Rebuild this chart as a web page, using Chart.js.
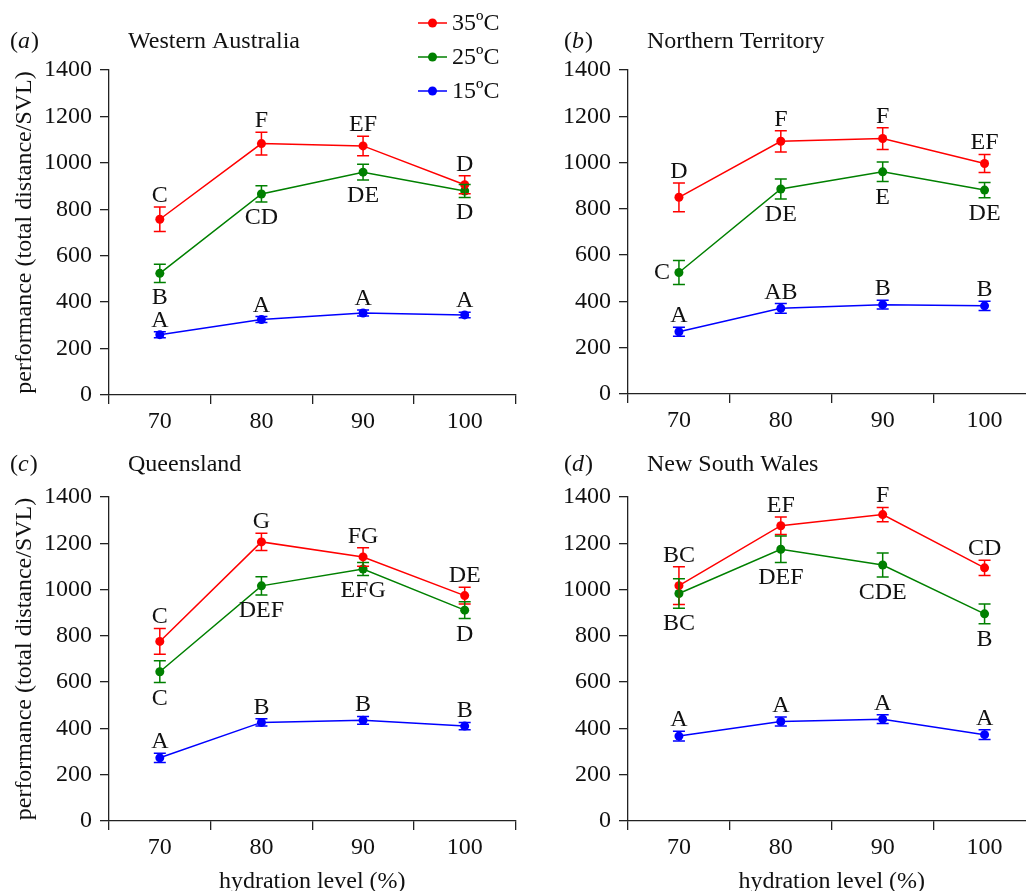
<!DOCTYPE html>
<html>
<head>
<meta charset="utf-8">
<title>Performance vs hydration level</title>
<script src="https://cdn.jsdelivr.net/npm/chart.js@4.4.0/dist/chart.umd.min.js"></script>
<style>
  html, body { margin: 0; padding: 0; background: #fff; overflow: hidden; }
  body { width: 1026px; height: 891px; position: relative; }
  canvas { position: absolute; }
</style>
</head>
<body>
<canvas id="chartA" width="520" height="440" style="left:0;top:0"></canvas>
<canvas id="chartB" width="520" height="440" style="left:520px;top:0"></canvas>
<canvas id="chartC" width="520" height="460" style="left:0;top:440px"></canvas>
<canvas id="chartD" width="520" height="460" style="left:520px;top:440px"></canvas>
<script>
(function () {
  'use strict';

  // categories and series names
  var HYDRATION = ['70', '80', '90', '100'];
  var TEMPS = ['35ºC', '25ºC', '15ºC'];

  // (a) Western Australia: means, standard errors, group letters
  var WA_35 = [757, 1083, 1073, 906];
  var WA_35_SE = [53, 49, 42, 39];
  var WA_35_GRP = ['C', 'F', 'EF', 'D'];
  var WA_25 = [524, 866, 960, 879];
  var WA_25_SE = [39, 35, 34, 28];
  var WA_25_GRP = ['B', 'CD', 'DE', 'D'];
  var WA_15 = [260, 325, 353, 345];
  var WA_15_SE = [13, 13, 13, 12];
  var WA_15_GRP = ['A', 'A', 'A', 'A'];

  // (b) Northern Territory
  var NT_35 = [850, 1092, 1104, 996];
  var NT_35_SE = [62, 46, 47, 39];
  var NT_35_GRP = ['D', 'F', 'F', 'EF'];
  var NT_25 = [525, 886, 960, 881];
  var NT_25_SE = [52, 43, 42, 33];
  var NT_25_GRP = ['C', 'DE', 'E', 'DE'];
  var NT_15 = [269, 370, 386, 381];
  var NT_15_SE = [19, 21, 19, 20];
  var NT_15_GRP = ['A', 'AB', 'B', 'B'];

  // (c) Queensland
  var QLD_35 = [776, 1206, 1141, 974];
  var QLD_35_SE = [56, 37, 40, 36];
  var QLD_35_GRP = ['C', 'G', 'FG', 'DE'];
  var QLD_25 = [645, 1016, 1089, 911];
  var QLD_25_SE = [47, 39, 28, 36];
  var QLD_25_GRP = ['C', 'DEF', 'EFG', 'D'];
  var QLD_15 = [273, 426, 435, 410];
  var QLD_15_SE = [20, 16, 17, 16];
  var QLD_15_GRP = ['A', 'B', 'B', 'B'];

  // (d) New South Wales
  var NSW_35 = [1017, 1276, 1324, 1094];
  var NSW_35_SE = [82, 38, 31, 33];
  var NSW_35_GRP = ['BC', 'EF', 'F', 'CD'];
  var NSW_25 = [983, 1174, 1106, 895];
  var NSW_25_SE = [64, 57, 52, 43];
  var NSW_25_GRP = ['BC', 'DEF', 'CDE', 'B'];
  var NSW_15 = [367, 430, 440, 373];
  var NSW_15_SE = [21, 19, 19, 21];
  var NSW_15_GRP = ['A', 'A', 'A', 'A'];

  // styling
  var COLORS = ['#ff0000', '#008000', '#0000ff'];
  var AXIS = '#222222';
  var TEXT = '#111111';
  var FAMILY = "'Liberation Serif', 'Times New Roman', Times, serif";
  var FONT_PX = 24;

  // where the group letters sit: a = above, b = below, l = left of the point
  var PLACE_DEFAULT = [
    ['a', 'a', 'a', 'a'],
    ['b', 'b', 'b', 'b'],
    ['a', 'a', 'a', 'a']
  ];
  var PLACE_NT = [
    ['a', 'a', 'a', 'a'],
    ['l', 'b', 'b', 'b'],
    ['a', 'a', 'a', 'a']
  ];

  function font(style) {
    return (style ? style + ' ' : '') + FONT_PX + 'px ' + FAMILY;
  }

  // Error bars (mean +/- SE)
  var errorBarPlugin = {
    id: 'errorBars',
    afterDatasetsDraw: function (chart) {
      var ctx = chart.ctx;
      var y = chart.scales.y;
      chart.data.datasets.forEach(function (ds, i) {
        var meta = chart.getDatasetMeta(i);
        ctx.save();
        ctx.strokeStyle = ds.borderColor;
        ctx.lineWidth = 1.5;
        meta.data.forEach(function (pt, j) {
          var hi = y.getPixelForValue(ds.data[j] + ds.errors[j]);
          var lo = y.getPixelForValue(ds.data[j] - ds.errors[j]);
          ctx.beginPath();
          ctx.moveTo(pt.x, hi); ctx.lineTo(pt.x, lo);
          ctx.moveTo(pt.x - 6, hi); ctx.lineTo(pt.x + 6, hi);
          ctx.moveTo(pt.x - 6, lo); ctx.lineTo(pt.x + 6, lo);
          ctx.stroke();
        });
        ctx.restore();
      });
    }
  };

  // Group letters next to every point
  var groupLetterPlugin = {
    id: 'groupLetters',
    afterDatasetsDraw: function (chart) {
      var ctx = chart.ctx;
      var y = chart.scales.y;
      ctx.save();
      ctx.font = font();
      ctx.fillStyle = TEXT;
      chart.data.datasets.forEach(function (ds, i) {
        var meta = chart.getDatasetMeta(i);
        meta.data.forEach(function (pt, j) {
          var where = ds.place[j];
          var hi = y.getPixelForValue(ds.data[j] + ds.errors[j]);
          var lo = y.getPixelForValue(ds.data[j] - ds.errors[j]);
          if (where === 'l') {
            ctx.textAlign = 'right';
            ctx.textBaseline = 'middle';
            ctx.fillText(ds.groups[j], pt.x - 9, pt.y);
          } else if (where === 'b') {
            ctx.textAlign = 'center';
            ctx.textBaseline = 'alphabetic';
            ctx.fillText(ds.groups[j], pt.x, lo + 22);
          } else {
            ctx.textAlign = 'center';
            ctx.textBaseline = 'alphabetic';
            ctx.fillText(ds.groups[j], pt.x, hi - 5);
          }
        });
      });
      ctx.restore();
    }
  };

  // Panel tag "(a)" with italic letter, then the region name
  var headerPlugin = {
    id: 'panelHeader',
    afterDraw: function (chart, args, opts) {
      if (!opts || !opts.title) return;
      var ctx = chart.ctx;
      ctx.save();
      ctx.fillStyle = TEXT;
      ctx.textBaseline = 'middle';
      ctx.textAlign = 'left';
      var x = opts.tagX;
      ctx.font = font();
      ctx.fillText('(', x, opts.y);
      x += ctx.measureText('(').width;
      ctx.font = font('italic');
      ctx.fillText(opts.tag, x, opts.y);
      x += ctx.measureText(opts.tag).width + 1;
      ctx.font = font();
      ctx.fillText(')', x, opts.y);
      ctx.fillText(opts.title, opts.titleX, opts.y);
      ctx.restore();
    }
  };

  // Series key in the first panel
  var keyPlugin = {
    id: 'seriesKey',
    afterDraw: function (chart, args, opts) {
      if (!opts || !opts.show) return;
      var ctx = chart.ctx;
      ctx.save();
      ctx.font = font();
      ctx.textAlign = 'left';
      ctx.textBaseline = 'middle';
      chart.data.datasets.forEach(function (ds, i) {
        var yy = opts.y + i * opts.step;
        ctx.strokeStyle = ds.borderColor;
        ctx.lineWidth = 1.5;
        ctx.beginPath();
        ctx.moveTo(opts.x, yy);
        ctx.lineTo(opts.x + 29, yy);
        ctx.stroke();
        ctx.fillStyle = ds.borderColor;
        ctx.beginPath();
        ctx.arc(opts.x + 14.5, yy, 4.5, 0, Math.PI * 2);
        ctx.fill();
        ctx.fillStyle = TEXT;
        ctx.fillText(ds.label, opts.x + 34, yy + 1);
      });
      ctx.restore();
    }
  };

  function makeDatasets(means, errs, groups, place) {
    return means.map(function (m, i) {
      return {
        label: TEMPS[i],
        data: m,
        errors: errs[i],
        groups: groups[i],
        place: place[i],
        borderColor: COLORS[i],
        backgroundColor: COLORS[i],
        pointBackgroundColor: COLORS[i],
        pointBorderWidth: 0,
        pointRadius: 4.5,
        borderWidth: 1.5,
        tension: 0
      };
    });
  }

  function drawPanel(cfg) {
    var canvas = document.getElementById(cfg.id);
    return new Chart(canvas.getContext('2d'), {
      type: 'line',
      data: {
        labels: HYDRATION,
        datasets: makeDatasets(cfg.means, cfg.errs, cfg.groups, cfg.place)
      },
      plugins: [errorBarPlugin, groupLetterPlugin, headerPlugin, keyPlugin],
      options: {
        responsive: false,
        animation: false,
        events: [],
        layout: { padding: { top: cfg.padTop, right: cfg.padRight, left: 0, bottom: 0 } },
        scales: {
          x: {
            type: 'category',
            offset: true,
            grid: { offset: true, drawOnChartArea: false, tickLength: 9, color: AXIS, lineWidth: 1.3 },
            border: { color: AXIS, width: 1.3 },
            ticks: { font: { family: FAMILY, size: FONT_PX }, color: TEXT, padding: 3, autoSkip: false, maxRotation: 0 },
            title: {
              display: cfg.xTitle,
              text: 'hydration level (%)',
              font: { family: FAMILY, size: FONT_PX },
              color: TEXT,
              padding: { top: 0, bottom: 3.6 }
            },
            afterFit: function (s) { s.height = cfg.xHeight; }
          },
          y: {
            min: 0,
            max: 1400,
            grid: { drawOnChartArea: false, tickLength: 9, color: AXIS, lineWidth: 1.3 },
            border: { color: AXIS, width: 1.3 },
            ticks: {
              stepSize: 200,
              font: { family: FAMILY, size: FONT_PX },
              color: TEXT,
              padding: 8,
              callback: function (v) { return String(v); }
            },
            title: {
              display: cfg.yTitle,
              text: 'performance (total distance/SVL)',
              font: { family: FAMILY, size: FONT_PX },
              color: TEXT,
              padding: { top: 10.6, bottom: 0 }
            },
            afterFit: function (s) { s.width = cfg.yWidth; }
          }
        },
        plugins: {
          legend: { display: false },
          tooltip: { enabled: false },
          panelHeader: { tag: cfg.tag, title: cfg.title, tagX: cfg.tagX, titleX: cfg.titleX, y: cfg.headerY },
          seriesKey: { show: cfg.key, x: 418, y: 23, step: 34 }
        }
      }
    });
  }

  drawPanel({
    id: 'chartA', tag: 'a', title: 'Western Australia',
    means: [WA_35, WA_25, WA_15], errs: [WA_35_SE, WA_25_SE, WA_15_SE],
    groups: [WA_35_GRP, WA_25_GRP, WA_15_GRP], place: PLACE_DEFAULT,
    padTop: 70, padRight: 3, xHeight: 45, yWidth: 109,
    xTitle: false, yTitle: true, key: true,
    tagX: 10, titleX: 128, headerY: 42
  });

  drawPanel({
    id: 'chartB', tag: 'b', title: 'Northern Territory',
    means: [NT_35, NT_25, NT_15], errs: [NT_35_SE, NT_25_SE, NT_15_SE],
    groups: [NT_35_GRP, NT_25_GRP, NT_15_GRP], place: PLACE_NT,
    padTop: 70, padRight: 4, xHeight: 46, yWidth: 108,
    xTitle: false, yTitle: false, key: false,
    tagX: 44, titleX: 127, headerY: 42
  });

  drawPanel({
    id: 'chartC', tag: 'c', title: 'Queensland',
    means: [QLD_35, QLD_25, QLD_15], errs: [QLD_35_SE, QLD_25_SE, QLD_15_SE],
    groups: [QLD_35_GRP, QLD_25_GRP, QLD_15_GRP], place: PLACE_DEFAULT,
    padTop: 57, padRight: 3, xHeight: 79, yWidth: 109,
    xTitle: true, yTitle: true, key: false,
    tagX: 10, titleX: 128, headerY: 25
  });

  drawPanel({
    id: 'chartD', tag: 'd', title: 'New South Wales',
    means: [NSW_35, NSW_25, NSW_15], errs: [NSW_35_SE, NSW_25_SE, NSW_15_SE],
    groups: [NSW_35_GRP, NSW_25_GRP, NSW_15_GRP], place: PLACE_DEFAULT,
    padTop: 57, padRight: 4, xHeight: 79, yWidth: 108,
    xTitle: true, yTitle: false, key: false,
    tagX: 44, titleX: 127, headerY: 25
  });
})();
</script>
</body>
</html>
